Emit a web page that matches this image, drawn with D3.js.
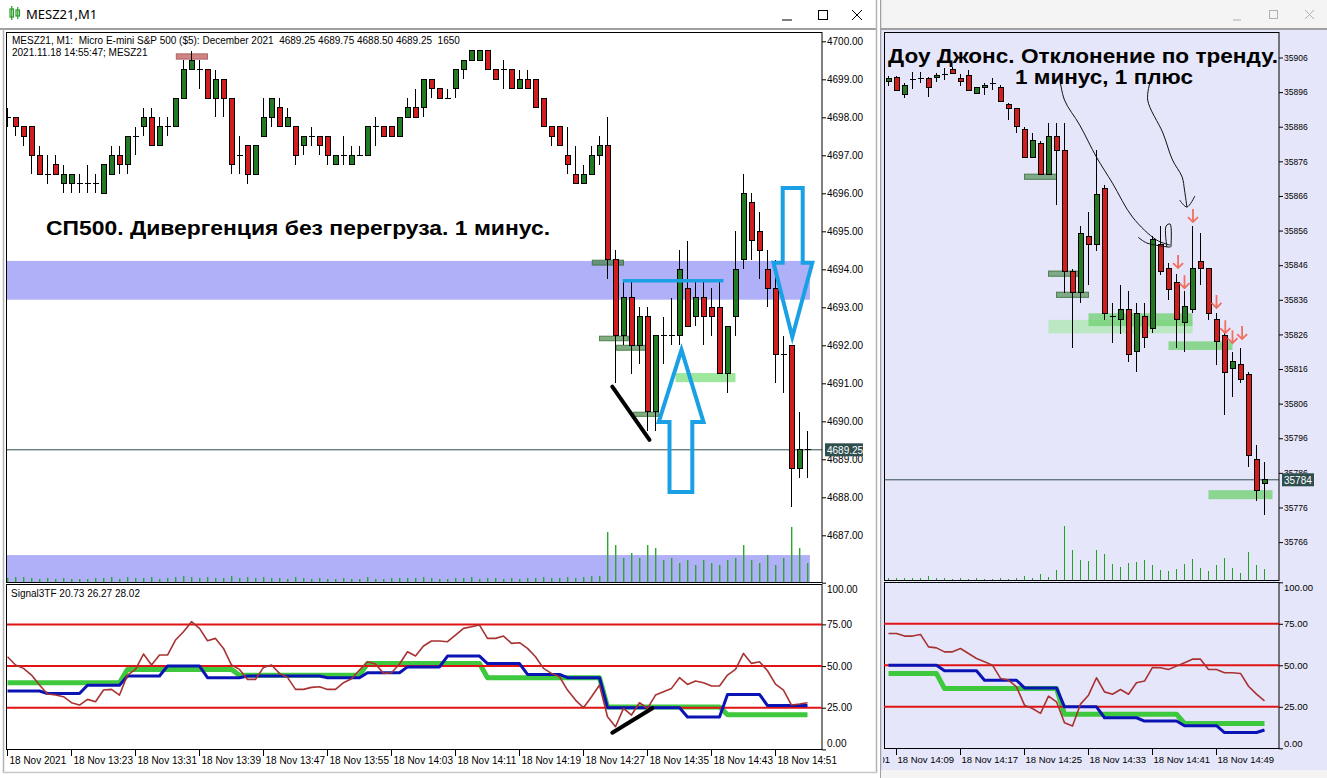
<!DOCTYPE html>
<html><head><meta charset="utf-8">
<script src="https://cdn.jsdelivr.net/npm/d3@7"></script>
<style>body{margin:0;background:#fff;overflow:hidden}svg{display:block}</style>
</head><body><svg id="c" width="1327" height="778"></svg>
<script>
// ================= S&P 500 (MESZ21, M1) data: bars 13:15 .. 14:55 =================
const spOpen=[4698,4698,4697.75,4697.75,4697,4696.5,4696.75,4696.25,4696.25,4696.25,4696.25,4696.25,4696,4696.5,4697,4696.75,4697.5,4697.75,4698,4697.25,4697.75,4697.75,4698.5,4699.25,4699.25,4699.25,4698.5,4699,4698.5,4697,4697.25,4696.5,4697.5,4698,4698.25,4697.75,4697.75,4697.25,4697.5,4697.5,4697.5,4696.75,4697,4696.75,4697,4697,4697.75,4697.75,4697.75,4697.5,4698,4698.25,4698.25,4699,4698.75,4698.5,4698.75,4699.25,4699.5,4699.5,4699.75,4699.25,4699.25,4699.25,4698.75,4699,4699,4698.5,4697.75,4697.75,4697,4696.5,4696.25,4696.5,4697,4697.25,4694.25,4692.25,4693.25,4692,4692.75,4690.25,4692.25,4692.25,4692.25,4693.5,4692.75,4693.25,4693,4693,4691.25,4692.75,4694.25,4695.75,4695,4694,4693.5,4691.75,4692,4688.75,4689.25];
const spHigh=[4698.25,4698,4697.75,4697.75,4697.25,4697,4697,4696.75,4696.5,4696.5,4696.75,4696.5,4696.75,4697.25,4697.25,4697.5,4697.75,4698.25,4698.25,4698,4698,4698.5,4699.5,4699.75,4699.5,4699.25,4699.25,4699,4698.5,4697.5,4697.25,4697.25,4698.5,4698.5,4698.5,4698.25,4697.75,4697.5,4697.75,4697.5,4697.5,4697,4697.5,4697.25,4697.25,4697.75,4698,4697.75,4697.75,4698,4698.5,4698.75,4699,4699,4698.75,4698.75,4699.25,4699.5,4699.75,4699.75,4699.75,4699.25,4699.5,4699.25,4699.25,4699.25,4699,4698.5,4697.75,4697.75,4697.75,4697.25,4696.75,4697.25,4697.5,4698,4694.5,4693.75,4693.75,4693,4693,4692.25,4692.75,4693.25,4694.5,4694.75,4693.75,4693.75,4693.5,4693.75,4692.5,4695,4696.5,4696,4695.5,4694.5,4694.25,4692.25,4692,4690.25,4689.75];
const spLow=[4697.75,4697.5,4697.25,4696.5,4696.5,4696.25,4696.5,4696,4696,4696,4696,4696,4696,4696.5,4696.5,4696.5,4697,4697.5,4697.25,4697.25,4697.5,4697.75,4698.5,4699.25,4698.75,4698.5,4698,4698,4696.5,4696.5,4696.25,4696.5,4697.5,4697.75,4697.75,4697.75,4696.75,4697,4697.25,4697,4696.75,4696.75,4696.75,4696.75,4697,4697,4697.25,4697.5,4697.5,4697.5,4698,4698,4698,4698.5,4698.5,4698.5,4698.5,4699,4699.5,4699.5,4699.25,4699,4698.75,4698.75,4698.75,4698.75,4698.25,4697.75,4697.25,4697.25,4696.5,4696.25,4696.25,4696.5,4696.75,4693.75,4691,4692,4691.25,4691.5,4689.75,4689.75,4691.5,4692,4692,4692.5,4692.5,4692,4692.25,4691.25,4690.75,4692.25,4694,4694.25,4693.75,4693,4691,4690.75,4687.75,4688.5,4688.5];
const spClose=[4698,4697.75,4697.5,4697,4696.5,4696.5,4696.5,4696.5,4696.5,4696.25,4696.25,4696.25,4696.75,4697,4696.75,4697.5,4697.5,4698,4697.25,4697.75,4697.75,4698.5,4699.25,4699.5,4699.25,4698.5,4699,4698.5,4696.75,4697,4696.5,4697.25,4698,4698.5,4697.75,4698,4697,4697.5,4697.5,4697.25,4697,4697,4697,4697,4697,4697.75,4697.75,4697.5,4697.5,4698,4698.25,4698,4699,4698.75,4698.5,4698.5,4699.25,4699.5,4699.75,4699.75,4699.25,4699,4699.25,4698.75,4699,4698.75,4698.25,4697.75,4697.5,4697.25,4696.75,4696.25,4696.5,4697,4697.25,4694.25,4692.25,4693.25,4692,4692.75,4690.25,4692.25,4692.25,4692.25,4694,4692.5,4693.25,4692.75,4692.75,4691.25,4692.5,4694,4696,4694.75,4694.5,4693.5,4691.75,4691.75,4688.75,4689.25,4689.25];
const spVol=[4,5,5,4,3,4,3,4,3,3,3,4,4,5,3,5,4,4,5,3,4,5,6,5,4,5,4,4,6,4,5,4,5,4,4,3,5,4,3,4,3,3,4,3,3,5,3,3,4,4,4,4,5,4,3,3,4,4,5,3,4,4,3,4,3,4,4,5,4,4,5,4,5,6,6,50,37,24,29,24,37,34,22,24,19,22,17,22,19,17,22,24,37,22,19,27,17,24,55,34,19];
const spGreenLine=[40,40,40,40,40,40,40,40,40,40,40,40,40,40,40,48,48,48,48,48,48,48,48,48,48,48,48,48,48,44.5,44.5,44.5,44.5,44.5,44.5,44.5,44.5,44.5,44.5,44.5,44.5,44.5,44.5,44.5,44.5,51.5,51.5,51.5,51.5,51.5,51.5,51.5,51.5,51.5,51.5,51.5,51.5,51.5,51.5,51.5,43,43,43,43,43,43,43,43,43,43,43,43,43,43,43,25.5,25.5,25.5,25.5,25.5,25.5,25.5,25.5,25.5,25.5,25.5,25.5,25.5,25.5,25.5,20.73,20.73,20.73,20.73,20.73,20.73,20.73,20.73,20.73,20.73,20.73];
const spBlueLine=[35,35,35,35,35,33.5,33.5,33.5,33.5,33.5,38.5,38.5,38.5,38.5,38.5,44,44,44,44,44,50,50,50,50,50,43,43,43,43,43,44,44,44,44,44,44,44,44,44,44,43,43,43,43,43,46,46,46,46,46,49.5,49.5,49.5,49.5,49.5,56,56,56,56,56,51.5,51.5,51.5,51.5,51.5,45,45,45,45,45,43,43,43,43,43,25,25,25,25,25,25,25,25,25,25,19.5,19.5,19.5,19.5,19.5,33,33,33,33,33,26.27,26.27,26.27,26.27,26.27,26.27];
const spBrownLine=[55.6,50.6,48.6,44.6,38.6,33.2,32.6,31.6,28,26.6,30,28.6,35.6,36,32.6,44.6,48,57.2,50.6,56.6,56.6,65.6,70.6,76.6,72.6,65.2,66.6,60.6,50.6,48,42,42,49.2,50.6,45.6,43.2,36,36,37.2,37.6,36,36,40,42.4,47.6,52.6,51.2,45.6,46,51.2,58.6,56,62,65,65,64.6,68.6,72.6,73.6,74.6,66.6,66.6,68,63.6,64,60.6,55.6,48.6,45.6,43.6,35.6,29.6,25,31.6,38.6,19.6,13.6,24.6,20.6,28,24.6,32.6,34.6,36.6,43,39,41,40,38,38,44.6,48,57.6,51.6,52.6,47.2,39.2,35.6,26.6,27.2,28.02];
const spPriceTicks=[4687,4688,4689,4690,4691,4692,4693,4694,4695,4696,4697,4698,4699,4700];
const spTimeTickBars=[0,8,16,24,32,40,48,56,64,72,80,88,96];
const spTimeLabels=["18 Nov 2021","18 Nov 13:23","18 Nov 13:31","18 Nov 13:39","18 Nov 13:47","18 Nov 13:55","18 Nov 14:03","18 Nov 14:11","18 Nov 14:19","18 Nov 14:27","18 Nov 14:35","18 Nov 14:43","18 Nov 14:51"];
// zones [barFrom, barTo, priceTop, priceBottom]
const spBands=[[-1,100.3,4694.22,4693.2],[-1,100.3,4686.48,4685.7]];
const spDarkZones=[[73.1,77,4694.24,4694.11],[74,77.6,4692.24,4692.12],[76.1,79.75,4692.0,4691.87],[78.25,81.4,4690.24,4690.13]];
const spLightZones=[[83.5,91,4691.27,4691.03]];
const spTopZone=[[21.1,25,4699.67,4699.53]];

// ================= Dow Jones data: bars 14:08 .. 14:55 =================
const djOpen=[35899,35900.3,35895.2,35899.5,35900,35900,35900.3,35901.2,35902.6,35900,35900.9,35895.6,35897.4,35898.5,35897.4,35892.3,35891.3,35885.2,35877.1,35881.2,35872.3,35883.3,35879.1,35844.1,35838,35854.2,35852.1,35868.2,35831.2,35830.2,35833.3,35821,35831.3,35827.8,35852.1,35845.1,35840.9,35829.4,35833.3,35847,35845.1,35830.2,35825.7,35816.2,35817.2,35814.3,35789.9,35783];
const djHigh=[35900.6,35900.6,35898.5,35901.9,35901.9,35900.3,35901.6,35902.9,35903.3,35901.2,35902.4,35897.4,35898.7,35900,35898,35892.8,35891.3,35886,35884.1,35881.9,35887.2,35887.2,35887.2,35845,35857.3,35861.4,35879.3,35869.2,35835,35840.3,35838.6,35835,35835,35854.3,35857.3,35846.6,35843.5,35838.6,35857.3,35855.2,35845.1,35832.1,35826.3,35821,35822,35815,35794.1,35789];
const djLow=[35897.8,35896.4,35894.2,35896.8,35898.5,35894.7,35899,35899.5,35901.2,35897.9,35896.4,35895.4,35895.2,35896.6,35893.2,35888,35884.1,35877.1,35877.1,35872.3,35872.3,35863.4,35838,35822,35835,35840.3,35850,35830.2,35823.4,35826,35818,35815,35822.2,35826.3,35843.1,35836,35822,35821,35832.1,35840.3,35830.2,35817.2,35802.7,35808,35812,35787.8,35778,35773.9];
const djClose=[35900,35896.4,35898,35899.5,35900,35897.4,35900.9,35901.2,35901.4,35899,35896.4,35897.4,35898,35898.5,35893.2,35891.3,35886.2,35877.1,35882.1,35872.3,35883.3,35879.1,35844.1,35838,35855.2,35852.1,35866.3,35832.1,35831.2,35833.3,35820.1,35832.1,35825.2,35853.3,35844.1,35839,35830.2,35834,35845.1,35845.1,35832.1,35823.9,35815,35818.1,35813,35790.9,35780.9,35784];
const djVol=[17,17,17,17,17,40,17,17,10,17,10,17,10,10,17,10,17,40,17,60,27,100,540,300,200,190,300,260,160,127,170,177,200,150,100,93,107,157,207,117,93,150,220,120,73,283,150,110];
const djGreenLine=[45,45,45,45,45,45,45,36,36,36,36,36,36,36,36,36,36,36,36,36,36,36,20.5,20.5,20.5,20.5,20.5,20.5,20.5,20.5,20.5,20.5,20.5,20.5,20.5,20.5,20.5,15,15,15,15,15,15,15,15,15,15,15];
const djBlueLine=[50,50,50,50,50,50,50,46.7,46.7,46.7,46.7,46.7,41,41,41,41,41,36.4,36.4,36.4,36.4,36.4,25,25,25,25,25,18.4,18.4,18.4,18.4,18.4,16.4,16.4,16.4,16.4,16.4,13.6,13.6,13.6,13.6,13.6,9.5,9.5,9.5,9.5,9.5,11];
const djBrownLine=[69.2,69.2,67.6,67.6,68.6,61.1,60.5,58.1,58.1,60.1,57.1,54.1,52.1,50.1,42.1,41.1,37,26,24,21,31.4,28,15.4,13.4,26.6,32,42.5,34,32.6,35.4,32.6,39.5,40.5,48.7,48.5,47.5,49.5,51.5,53.7,53.7,47.5,47.5,45.5,45.5,45.1,37.4,32.6,28.6];
const djPriceTicks=[35766,35776,35786,35796,35806,35816,35826,35836,35846,35856,35866,35876,35886,35896,35906];
const djTimeTickBars=[-7,1,9,17,25,33,41];
const djTimeLabels=["18 Nov 14:01","18 Nov 14:09","18 Nov 14:17","18 Nov 14:25","18 Nov 14:33","18 Nov 14:41","18 Nov 14:49"];
const djDarkZones=[[17,21,35872.3,35870.8],[20,23.8,35844.3,35842.8],[21,25,35838.2,35836.7]];
const djLightZones=[[20,38,35830.2,35826.3]];
const djMidZones=[[25,38,35832.1,35828.4],[35,43,35824,35821.5],[40,48,35781,35778.4]];
const djArrowMarks=[[38.06,35860.2],[36.2,35846.9],[37,35841.1],[41,35835.4],[42.1,35828.1],[43,35825.2],[44.2,35826.4]];

const indLevels=[25,50,75];
const indTicks=[0,25,50,75,100];

// ================= drawing =================
const svg=d3.select("#c");
const defs=svg.append("defs");
const FONT="'Liberation Sans', Arial, sans-serif";

function clip(id,x,y,w,h){defs.append("clipPath").attr("id",id).append("rect").attr("x",x).attr("y",y).attr("width",w).attr("height",h);return "url(#"+id+")";}

function drawCandles(g,x,y,O,Hi,L,C,up,dn){
  const idx=d3.range(O.length);
  g.append("g").selectAll("line").data(idx).join("line")
    .attr("x1",i=>x(i)).attr("x2",i=>x(i)).attr("y1",i=>y(Hi[i])).attr("y2",i=>y(L[i]))
    .attr("stroke","#000").attr("stroke-width",1).attr("shape-rendering","crispEdges");
  g.append("g").selectAll("rect").data(idx.filter(i=>O[i]!==C[i])).join("rect")
    .attr("x",i=>x(i)-2.5).attr("width",5)
    .attr("y",i=>y(Math.max(O[i],C[i]))).attr("height",i=>Math.max(1,Math.abs(y(O[i])-y(C[i]))))
    .attr("fill",i=>C[i]>O[i]?up:dn).attr("stroke","#000").attr("stroke-width",1).attr("shape-rendering","crispEdges");
  g.append("g").selectAll("line").data(idx.filter(i=>O[i]===C[i])).join("line")
    .attr("x1",i=>x(i)-3).attr("x2",i=>x(i)+3).attr("y1",i=>y(O[i])).attr("y2",i=>y(O[i]))
    .attr("stroke","#000").attr("stroke-width",1).attr("shape-rendering","crispEdges");
}
function drawZones(g,x,y,zones,fill,stroke,op){
  g.append("g").selectAll("rect").data(zones).join("rect")
    .attr("x",d=>x(d[0])).attr("width",d=>x(d[1])-x(d[0]))
    .attr("y",d=>y(d[2])).attr("height",d=>y(d[3])-y(d[2]))
    .attr("fill",fill).attr("fill-opacity",op).attr("stroke",stroke).attr("stroke-opacity",stroke==="none"?0:0.8);
}
function drawIndicator(g,x,v,green,blue,brown,x0,x1){
  const ln=d3.line().x((d,i)=>x(i)).y(d=>v(d));
  g.append("path").attr("d",ln(green)).attr("fill","none").attr("stroke","#3ec83e").attr("stroke-width",5).attr("stroke-linejoin","round");
  g.append("g").selectAll("line").data(indLevels).join("line")
    .attr("x1",x0).attr("x2",x1).attr("y1",d=>v(d)).attr("y2",d=>v(d))
    .attr("stroke","#e01414").attr("stroke-width",2);
  g.append("path").attr("d",ln(blue)).attr("fill","none").attr("stroke","#0a14b4").attr("stroke-width",3).attr("stroke-linejoin","round");
  g.append("path").attr("d",ln(brown)).attr("fill","none").attr("stroke","#a83232").attr("stroke-width",1.6).attr("stroke-linejoin","round");
}

// ---------------- LEFT WINDOW ----------------
svg.append("rect").attr("x",0).attr("y",0).attr("width",878).attr("height",778).attr("fill","#fff");
svg.append("line").attr("x1",0).attr("x2",877).attr("y1",29).attr("y2",29).attr("stroke","#a0a0a0").attr("stroke-width",2);
svg.append("line").attr("x1",3.5).attr("x2",3.5).attr("y1",29).attr("y2",773).attr("stroke","#b4b4b4").attr("stroke-width",1.5);
svg.append("line").attr("x1",876.5).attr("x2",876.5).attr("y1",0).attr("y2",773).attr("stroke","#b4b4b4").attr("stroke-width",1.5);
svg.append("line").attr("x1",3).attr("x2",877).attr("y1",772.5).attr("y2",772.5).attr("stroke","#c8c8c8").attr("stroke-width",1.5);
// title
const ic=svg.append("g").attr("stroke","#2a9a2a").attr("fill","none").attr("stroke-width",1.2);
ic.append("rect").attr("x",10).attr("y",9).attr("width",3.5).attr("height",8);
ic.append("line").attr("x1",11.75).attr("x2",11.75).attr("y1",6).attr("y2",20);
ic.append("rect").attr("x",16).attr("y",10).attr("width",3.5).attr("height",6);
ic.append("line").attr("x1",17.75).attr("x2",17.75).attr("y1",7).attr("y2",19);
svg.append("text").attr("x",26).attr("y",19).text("MESZ21,M1").attr("font-family","'Noto Sans',sans-serif").attr("font-size",13).attr("fill","#000");
svg.append("line").attr("x1",782).attr("x2",792).attr("y1",20).attr("y2",20).attr("stroke","#000");
svg.append("rect").attr("x",818.5).attr("y",10.5).attr("width",9).attr("height",9).attr("fill","none").attr("stroke","#000");
svg.append("path").attr("d","M852,10L862,20M862,10L852,20").attr("stroke","#000");

const spX=d3.scaleLinear().domain([0,100]).range([7.5,807.5]);
const spY=d3.scaleLinear().domain([4687,4700]).range([535.3,41.3]);
const spV=d3.scaleLinear().domain([0,100]).range([749.4,582.7]);
const spVolY=d3.scaleLinear().domain([0,d3.max(spVol)]).range([582,582-55]);

const spMain=svg.append("g").attr("clip-path",clip("spm",7,32,815,550));
drawZones(spMain,spX,spY,spBands,"#b0b0f8","none",1);
spMain.append("g").selectAll("rect").data(d3.range(spVol.length)).join("rect")
  .attr("x",i=>spX(i)-0.5).attr("width",1.4).attr("y",i=>spVolY(spVol[i])).attr("height",i=>spVolY(0)-spVolY(spVol[i]))
  .attr("fill","#2aa82a");
drawZones(spMain,spX,spY,spTopZone,"#c87070","#a05050",0.85);
drawZones(spMain,spX,spY,spDarkZones,"#3f7f3f","#2f6f2f",0.65);
drawZones(spMain,spX,spY,spLightZones,"#7ee07e","none",0.75);
spMain.append("line").attr("x1",7).attr("x2",822).attr("y1",spY(spClose[100])).attr("y2",spY(spClose[100])).attr("stroke","#2f4f4f").attr("stroke-width",1);
drawCandles(spMain,spX,spY,spOpen,spHigh,spLow,spClose,"#237a23","#d21e1e");
// annotations (data coordinates)
const spLn=d3.line().x(d=>spX(d[0])).y(d=>spY(d[1]));
spMain.append("path").attr("d",spLn([[76.9,4693.7],[89.5,4693.7]])).attr("stroke","#1aa0e4").attr("stroke-width",3.5).attr("fill","none");
spMain.append("path").attr("d",spLn([[84.25,4691.88],[87,4689.98],[85.6,4689.98],[85.6,4688.14],[82.75,4688.14],[82.75,4689.98],[81.4,4689.98]])+"Z").attr("stroke","#1aa0e4").attr("stroke-width",4).attr("fill","none");
spMain.append("path").attr("d",spLn([[96.9,4696.14],[99.4,4696.14],[99.4,4694.17],[100.6,4694.17],[98.1,4692.22],[95.75,4694.17],[96.9,4694.17]])+"Z").attr("stroke","#1aa0e4").attr("stroke-width",4).attr("fill","none");
spMain.append("path").attr("d",spLn([[75.6,4690.91],[80.25,4689.51]])).attr("stroke","#000").attr("stroke-width",4).attr("stroke-linecap","round");
// frames
svg.append("rect").attr("x",6.5).attr("y",32.5).attr("width",815.5).attr("height",550).attr("fill","none").attr("stroke","#000");
svg.append("rect").attr("x",6.5).attr("y",584.5).attr("width",815.5).attr("height",165).attr("fill","none").attr("stroke","#000");
// header texts
svg.append("text").attr("x",12).attr("y",44).text("MESZ21, M1:  Micro E-mini S&P 500 ($5): December 2021  4689.25 4689.75 4688.50 4689.25  1650").attr("font-family",FONT).attr("font-size",10).attr("xml:space","preserve").style("white-space","pre");
svg.append("text").attr("x",12).attr("y",56).text("2021.11.18 14:55:47; MESZ21").attr("font-family",FONT).attr("font-size",10);
svg.append("text").attr("x",46).attr("y",235).text("СП500. Дивергенция без перегруза. 1 минус.").attr("font-family","'Liberation Sans',Arial,sans-serif").attr("font-weight","bold").attr("font-size",19.5).attr("textLength",504).attr("lengthAdjust","spacingAndGlyphs");
// price axis
const spAx=svg.append("g").attr("transform","translate(822,0)").call(d3.axisRight(spY).tickValues(spPriceTicks).tickFormat(d3.format(".2f")).tickSize(4).tickPadding(1));
spAx.select(".domain").remove();
spAx.selectAll("text").attr("font-family",FONT).attr("font-size",10).attr("fill","#000");
const cp=svg.append("g");
cp.append("rect").attr("x",825).attr("y",spY(spClose[100])-6.5).attr("width",38).attr("height",13).attr("fill","#2f4f4f");
cp.append("text").attr("x",827).attr("y",spY(spClose[100])+4).text(d3.format(".2f")(spClose[100])).attr("fill","#fff").attr("font-family",FONT).attr("font-size",10);
// indicator
const spInd=svg.append("g").attr("clip-path",clip("spi",7,585,815,164));
drawIndicator(spInd,spX,spV,spGreenLine,spBlueLine,spBrownLine,7,822);
spInd.append("path").attr("d",d3.line().x(d=>spX(d[0])).y(d=>spV(d[1]))([[75.6,10],[80.6,24.7]])).attr("stroke","#000").attr("stroke-width",4).attr("stroke-linecap","round");
svg.append("text").attr("x",11).attr("y",597).text("Signal3TF "+[spGreenLine[100],spBlueLine[100],spBrownLine[100]].map(d3.format(".2f")).join(" ")).attr("font-family",FONT).attr("font-size",10);
const spIAx=svg.append("g").attr("transform","translate(822,0)").call(d3.axisRight(spV).tickValues(indTicks).tickFormat(d3.format(".2f")).tickSize(4).tickPadding(1));
spIAx.select(".domain").remove();
spIAx.selectAll("text").attr("font-family",FONT).attr("font-size",10).attr("fill","#000").attr("dy",d=>d===100?"0.95em":d===0?"-0.3em":"0.32em");
// time axis
const spT=svg.append("g");
spT.selectAll("line").data(spTimeTickBars).join("line").attr("x1",d=>spX(d)).attr("x2",d=>spX(d)).attr("y1",750).attr("y2",756).attr("stroke","#000");
spT.selectAll("text").data(spTimeTickBars).join("text").attr("x",d=>spX(d)+2).attr("y",764).text((d,i)=>spTimeLabels[i]).attr("font-family",FONT).attr("font-size",10);

// ---------------- RIGHT WINDOW ----------------
const R=svg.append("g").attr("clip-path",clip("rw",880,0,447,778));
R.append("rect").attr("x",880).attr("y",0).attr("width",447).attr("height",778).attr("fill","#e6e6fa");
R.append("rect").attr("x",880).attr("y",0).attr("width",447).attr("height",29).attr("fill","#f4f4f4");
R.append("line").attr("x1",880).attr("x2",1327).attr("y1",29).attr("y2",29).attr("stroke","#a0a0a0").attr("stroke-width",2);
R.append("line").attr("x1",880.5).attr("x2",880.5).attr("y1",0).attr("y2",778).attr("stroke","#a0a0a0").attr("stroke-width",1.5);
R.append("rect").attr("x",881).attr("y",770).attr("width",446).attr("height",8).attr("fill","#f4f4f4");
R.append("line").attr("x1",1233).attr("x2",1241).attr("y1",20).attr("y2",20).attr("stroke","#b0b0b0");
R.append("rect").attr("x",1269.5).attr("y",10.5).attr("width",8).attr("height",8).attr("fill","none").attr("stroke","#b0b0b0");
R.append("path").attr("d","M1305,10L1314,19M1314,10L1305,19").attr("stroke","#b0b0b0");

const djX=d3.scaleLinear().domain([0,47]).range([888.5,1264.5]);
const djY=d3.scaleLinear().domain([35766,35906]).range([542.1,57.5]);
const djV=d3.scaleLinear().domain([0,100]).range([748.3,582.3]);
const djVolY=d3.scaleLinear().domain([0,d3.max(djVol)]).range([580,580-54]);

const djMain=R.append("g").attr("clip-path",clip("djm",884,32,395,548));
djMain.append("g").selectAll("line").data(d3.range(djVol.length)).join("line")
  .attr("x1",i=>djX(i)).attr("x2",i=>djX(i)).attr("y1",djVolY(0)).attr("y2",i=>djVolY(djVol[i]))
  .attr("stroke","#22a022").attr("stroke-width",1).attr("shape-rendering","crispEdges");
drawZones(djMain,djX,djY,djLightZones,"#9ee89e","none",0.6);
drawZones(djMain,djX,djY,djMidZones,"#6fd06f","none",0.75);
drawZones(djMain,djX,djY,djDarkZones,"#3f7f3f","#2f6f2f",0.6);
djMain.append("line").attr("x1",884).attr("x2",1279).attr("y1",djY(djClose[47])).attr("y2",djY(djClose[47])).attr("stroke","#2f4f4f");
drawCandles(djMain,djX,djY,djOpen,djHigh,djLow,djClose,"#237a23","#d21e1e");
// red down-arrows
const arr=djMain.append("g").attr("stroke","#f07060").attr("stroke-width",1.8).attr("fill","none");
arr.selectAll("path").data(djArrowMarks).join("path")
  .attr("d",d=>{const x=djX(d[0]),y=djY(d[1]);return `M${x},${y-7}L${x},${y+6}M${x-5},${y+1}L${x},${y+6}L${x+5},${y+1}`;});
// pen annotations (data coordinates)
const djLn=d3.line().x(d=>djX(d[0])).y(d=>djY(d[1])).curve(d3.curveCatmullRom);
const pens=[
  [[21.4,35900.1],[22.0,35893.7],[23.9,35886.5],[26.0,35877.2],[28.0,35869.7],[30.5,35859.9],[33.5,35853.3],[35.2,35851.8]],
  [[31.2,35854.1],[32.3,35852.4],[35.2,35851.2]],
  [[34.8,35851.2],[34.7,35857.3],[35.2,35857.9],[35.3,35851.2]],
  [[32.7,35898.9],[32.4,35893.7],[34.3,35884.2],[35.5,35876.4],[36.7,35871.5],[37.0,35867.7],[37.3,35862.8]],
  [[36.4,35864.8],[37.3,35862.8],[38.3,35866.0]]
];
djMain.append("g").selectAll("path").data(pens).join("path").attr("d",djLn).attr("fill","none").attr("stroke","#111").attr("stroke-width",1);
// frames
R.append("rect").attr("x",884.5).attr("y",32.5).attr("width",394.5).attr("height",548).attr("fill","none").attr("stroke","#000");
R.append("rect").attr("x",884.5).attr("y",582.5).attr("width",394.5).attr("height",166).attr("fill","none").attr("stroke","#000");
// title text
R.append("text").attr("x",888).attr("y",63).text("Доу Джонс. Отклонение по тренду.").attr("font-family","'Liberation Sans',Arial,sans-serif").attr("font-weight","bold").attr("font-size",20).attr("textLength",390).attr("lengthAdjust","spacingAndGlyphs");
R.append("text").attr("x",1015).attr("y",84).text("1 минус, 1 плюс").attr("font-family","'Liberation Sans',Arial,sans-serif").attr("font-weight","bold").attr("font-size",20).attr("textLength",178).attr("lengthAdjust","spacingAndGlyphs");
// price axis
const djAx=R.append("g").attr("transform","translate(1279,0)").call(d3.axisRight(djY).tickValues(djPriceTicks).tickFormat(d3.format("d")).tickSize(4).tickPadding(1));
djAx.select(".domain").remove();
djAx.selectAll("text").attr("font-family",FONT).attr("font-size",8.5).attr("fill","#000");
R.append("rect").attr("x",1282).attr("y",djY(djClose[47])-6.5).attr("width",32).attr("height",13).attr("fill","#2f4f4f");
R.append("text").attr("x",1284).attr("y",djY(djClose[47])+4).text(d3.format("d")(djClose[47])).attr("fill","#fff").attr("font-family",FONT).attr("font-size",10);
// indicator
const djInd=R.append("g").attr("clip-path",clip("dji",884,583,395,165));
drawIndicator(djInd,djX,djV,djGreenLine,djBlueLine,djBrownLine,884,1279);
const djIAx=R.append("g").attr("transform","translate(1279,0)").call(d3.axisRight(djV).tickValues(indTicks).tickFormat(d3.format(".2f")).tickSize(4).tickPadding(1));
djIAx.select(".domain").remove();
djIAx.selectAll("text").attr("font-family",FONT).attr("font-size",9.5).attr("fill","#000").attr("dy",d=>d===100?"0.85em":d===0?"-0.2em":"0.32em");
const djT=R.append("g").attr("clip-path",clip("djt",883,748,444,30));
djT.selectAll("line").data(djTimeTickBars).join("line").attr("x1",d=>djX(d)).attr("x2",d=>djX(d)).attr("y1",749).attr("y2",755).attr("stroke","#000");
djT.selectAll("text").data(djTimeTickBars).join("text").attr("x",d=>djX(d)+1).attr("y",763).text((d,i)=>djTimeLabels[i]).attr("font-family",FONT).attr("font-size",9.5);
</script></body></html>
